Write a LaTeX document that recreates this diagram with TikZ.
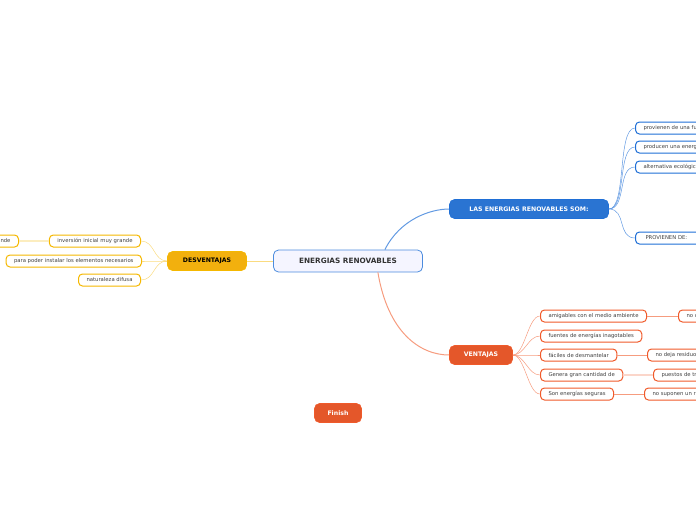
\documentclass[tikz,border=0pt]{standalone}
\usepackage{fontspec}
\setmainfont{DejaVu Sans}
\usetikzlibrary{positioning}
\definecolor{blueline}{HTML}{1F6FD6}
\definecolor{bluefill}{HTML}{2A74D2}
\definecolor{redline}{HTML}{F05A2A}
\definecolor{redfill}{HTML}{E4572A}
\definecolor{yelline}{HTML}{F5B800}
\definecolor{yelfill}{HTML}{F2B00E}
\tikzset{
  main node/.style={rounded corners=5pt, draw=blueline!80, fill=blue!4, line width=0.8pt,
    font=\bfseries\fontsize{7.3}{8}\selectfont, text=black!80, minimum height=22pt, minimum width=149pt},
  branch node/.style={rounded corners=5pt, draw=#1line, fill=#1fill, line width=0.6pt,
    font=\bfseries\fontsize{6.2}{6.5}\selectfont, minimum height=19pt, inner xsep=6pt},
  leaf node/.style={rounded corners=4pt, draw=#1line, fill=white, line width=1pt,
    font=\fontsize{5.3}{5.5}\selectfont, text=black!75, minimum height=12pt, anchor=west, inner xsep=8pt},
  blue link/.style={draw=blueline!70, line width=0.5pt},
  red link/.style={draw=redline!60, line width=0.5pt},
  yel link/.style={draw=yelline!50, line width=0.5pt},
}
\begin{document}
\begin{tikzpicture}[x=1pt,y=-1pt]
  \useasboundingbox (0,0) rectangle (696,520);
  \clip (0,0) rectangle (696,520);
  % centre
  \node[main node] (root) at (348,261) {ENERGIAS RENOVABLES};
  % branches
  \node[branch node=blue, text=white, minimum width=159pt] (som) at (529,209) {LAS ENERGIAS RENOVABLES SOM:};
  \node[branch node=red, text=white, minimum width=63pt] (vent) at (481,355) {VENTAJAS};
  \node[branch node=yel, text=black, minimum width=79pt] (desv) at (207,261) {DESVENTAJAS};
  \node[branch node=red, text=white, minimum width=47pt] (fin) at (338,413) {Finish};

  % son
  \node[leaf node=blue] (s1) at (635,128) {provienen de una fuente};
  \node[leaf node=blue] (s2) at (635,147) {producen una energía};
  \node[leaf node=blue] (s3) at (635,167) {alternativa ecológica};
  \node[leaf node=blue, minimum width=80pt, align=left, text width=60pt] (s4) at (635,238) {PROVIENEN DE:};

  % ventajas
  \node[leaf node=red] (v1) at (540,316) {amigables con el medio ambiente};
  \node[leaf node=red] (v2) at (540,336) {fuentes de energías inagotables};
  \node[leaf node=red] (v3) at (540,355) {fáciles de desmantelar};
  \node[leaf node=red] (v4) at (540,375) {Genera gran cantidad de};
  \node[leaf node=red] (v5) at (540,394) {Son energías seguras};
  \node[leaf node=red] (w1) at (678,316) {no contaminan};
  \node[leaf node=red] (w3) at (647,355) {no deja residuos};
  \node[leaf node=red] (w4) at (653,375) {puestos de trabajo};
  \node[leaf node=red] (w5) at (644,394) {no suponen un riesgo};

  % desventajas
  \node[leaf node=yel, anchor=east] (d1) at (141,241) {inversión inicial muy grande};
  \node[leaf node=yel, anchor=east] (d2) at (142,261) {para poder instalar los elementos necesarios};
  \node[leaf node=yel, anchor=east] (d3) at (141,280) {naturaleza difusa};
  \node[leaf node=yel, anchor=east] (e1) at (19,241) {superficie grande};

  % links
  \draw[blue link, line width=1pt] (root.north east) ++(-38,0) .. controls +(15,-30) and (430,209) .. (som.west);
  \draw[red link, line width=1pt] (root.south east) ++(-45,0) .. controls +(10,60) and (420,355) .. (vent.west);
  \draw[yel link, line width=0.8pt] (root.west) -- (desv.east);
  \foreach \n in {s1,s2,s3,s4}
    \draw[blue link] (som.east) .. controls +(18,0) and ([xshift=-18pt]\n.west) .. (\n.west);
  \foreach \n in {v1,v2,v3,v4,v5}
    \draw[red link] (vent.east) .. controls +(12,0) and ([xshift=-12pt]\n.west) .. (\n.west);
  \foreach \n in {d1,d2,d3}
    \draw[yel link] (desv.west) .. controls +(-14,0) and ([xshift=14pt]\n.east) .. (\n.east);
  \draw[red link] (v1) -- (w1);
  \draw[red link] (v3) -- (w3);
  \draw[red link, line width=2pt, draw=redline!25] (v4) -- (w4);
  \draw[red link] (v5) -- (w5);
  \draw[yel link, line width=2pt, draw=yelline!25] (d1) -- (e1);
\end{tikzpicture}
\end{document}
